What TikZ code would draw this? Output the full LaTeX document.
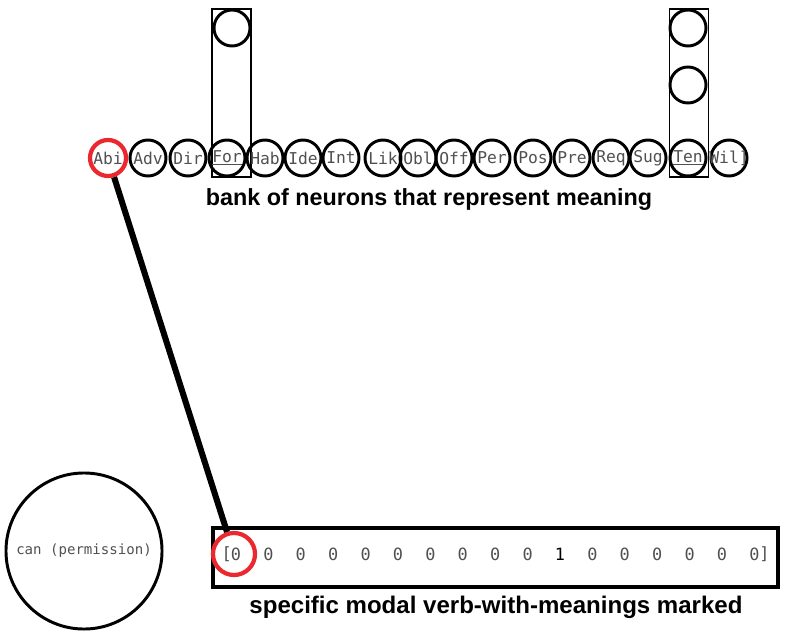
\documentclass[tikz,border=0pt]{standalone}
\usepackage{fontspec}
\setmainfont{Liberation Sans}
\newfontfamily\monofont{DejaVu Sans Mono}
\definecolor{inkgray}{RGB}{80,80,80}
\definecolor{markred}{RGB}{235,40,45}
\begin{document}
\begin{tikzpicture}[
    x=0.025cm, y=-0.025cm,
    neuron/.style={circle, draw, line width=2.1pt, minimum size=0.9cm, inner sep=0pt, text=inkgray, font=\monofont\fontsize{11.6}{13}\selectfont},
    column/.style={rectangle, draw, line width=1pt, minimum width=0.98cm, minimum height=4.2cm, inner sep=0pt},
    marker/.style={circle, draw=markred, line width=3pt, minimum size=1.05cm, inner sep=0pt},
    digit/.style={text=inkgray, font=\monofont\fontsize{12}{14}\selectfont, inner sep=0pt},
    caption/.style={font=\bfseries\fontsize{16.6}{19}\selectfont},
    link/.style={line width=4.3pt}
]
\useasboundingbox (0,0) rectangle (786,635);
\node[column] (forcol) at (231.5,93) {};
\node[column] (tencol) at (689,93)   {};
\node[neuron] (forup)  at (232,28) {};
\node[neuron] (tenup1) at (688,28) {};
\node[neuron] (tenup2) at (688,85) {};
\node[neuron, draw=markred, line width=3pt] (abi) at (108,158) {Abi};
\node[neuron] (adv) at (148,158) {Adv};
\node[neuron] (dir) at (188,158) {Dir};
\node[neuron] (for) at (227,158) {\underline{For}};
\node[neuron] (hab) at (265,158) {Hab};
\node[neuron] (ide) at (303,158) {Ide};
\node[neuron] (int) at (341,158) {Int};
\node[neuron] (lik) at (383,158) {Lik};
\node[neuron] (obl) at (418,158) {Obl};
\node[neuron] (off) at (454,158) {Off};
\node[neuron] (per) at (492,158) {Per};
\node[neuron] (pos) at (533,158) {Pos};
\node[neuron] (pre) at (572,158) {Pre};
\node[neuron] (req) at (611,158) {Req};
\node[neuron] (sug) at (648,158) {Sug};
\node[neuron] (ten) at (688,158) {\underline{Ten}};
\node[neuron, inner sep=-6pt] (wil) at (729,158) {Wil]};
\node[caption] (banklabel) at (429,200) {bank of neurons that represent meaning};
% meaning vector of the verb
\node[circle, draw, line width=2.1pt, minimum size=3.9cm, inner sep=0pt, text=inkgray, font=\monofont\fontsize{10}{12}\selectfont] (modal) at (84,551) {can (permission)};
\node[rectangle, draw, line width=2.4pt, minimum width=14.125cm, minimum height=1.475cm] (vecbox) at (495.5,557.5) {};
\node[digit, anchor=east] (open) at (232,554) {[};
\foreach \i in {1,...,17} {
  \ifnum\i=11
    \node[digit, text=black] (v\i) at ({236+32.4*(\i-1)},554) {1};
  \else
    \node[digit] (v\i) at ({236+32.4*(\i-1)},554) {0};
  \fi
}
\node[digit, anchor=west] (close) at (759,554) {]};
\node[marker] (mark) at (234,554) {};
\node[caption, font=\bfseries\fontsize{17.1}{20}\selectfont] (veclabel) at (496,607) {specific modal verb-with-meanings marked};
\draw[link] (abi) -- (mark);
\end{tikzpicture}
\end{document}
